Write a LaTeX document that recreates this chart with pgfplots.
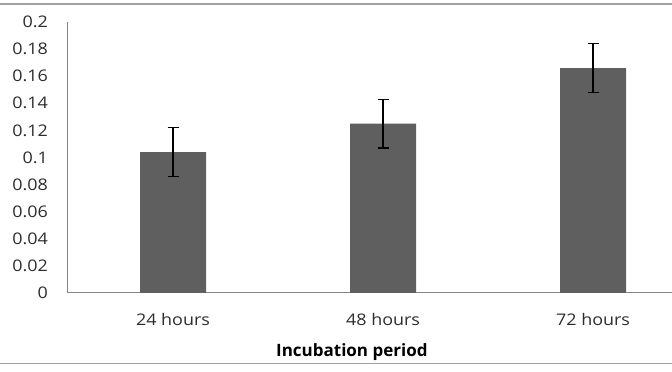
\documentclass[border=0pt]{standalone}
\usepackage{pgfplots}
\pgfplotsset{compat=1.18}
\usepackage{fontspec}
\setmainfont{Open Sans}
\newfontfamily\tickfont[FakeStretch=1.12]{Open Sans}
\definecolor{barc}{RGB}{95,95,95}
\definecolor{axc}{RGB}{134,134,134}
\definecolor{bordc}{RGB}{160,160,160}
\definecolor{txt}{RGB}{45,45,45}
\begin{document}
\begin{tikzpicture}
\useasboundingbox (0,0) rectangle (672pt,372pt);
\draw[bordc, line width=1.2pt] (0,368pt) -- (672pt,368pt);
\draw[bordc, line width=1.2pt] (0,8.5pt) -- (672pt,8.5pt);
\begin{axis}[
  at={(68pt,79pt)}, anchor=south west,
  scale only axis, width=604pt, height=271pt,
  xmin=-0.5, xmax=2.376, ymin=0, ymax=0.2,
  enlarge x limits=false, enlarge y limits=false,
  axis x line*=bottom, axis y line*=left,
  axis line style={-, axc, line width=1pt},
  major tick length=0pt,
  xtick={0,1,2}, xticklabels={24 hours,48 hours,72 hours},
  ytick={0,0.02,0.04,0.06,0.08,0.1,0.12,0.14,0.16,0.18,0.2},
  yticklabels={0,0.02,0.04,0.06,0.08,0.1,0.12,0.14,0.16,0.18,0.2},
  ticklabel style={font=\tickfont\fontsize{16}{18}\selectfont, text=txt},
  yticklabel style={anchor=east, inner sep=0pt, xshift=-20pt},
  xticklabel style={anchor=center, inner sep=0pt, yshift=-27pt},
  xlabel={Incubation period},
  xlabel style={at={(axis description cs:0.470,-0.236)}, anchor=base, inner sep=0pt, font=\bfseries\fontsize{17}{19}\selectfont, text=black},
  ybar, bar width=66pt,
  clip=false,
]
\addplot[fill=barc, draw=none,
  error bars/.cd, y dir=both, y explicit,
  error bar style={line width=1.2pt, black},
  error mark options={rotate=90, mark size=5.5pt, line width=1.2pt, black}]
  coordinates {
    (0,0.104) +- (0,0.018)
    (1,0.125) +- (0,0.018)
    (2,0.166) +- (0,0.018)
  };
\end{axis}
\end{tikzpicture}
\end{document}
